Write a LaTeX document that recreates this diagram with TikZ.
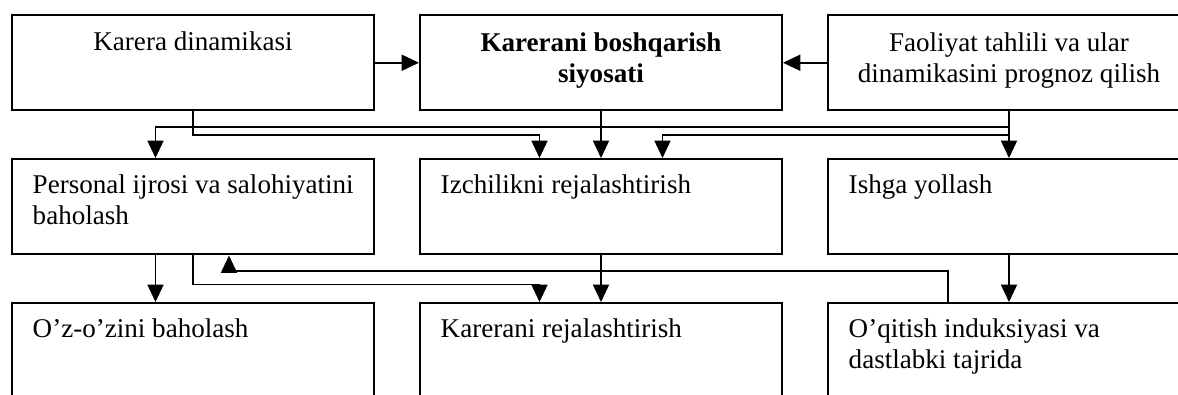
\documentclass[tikz,border=0pt]{standalone}
\usepackage{fontspec}
\setmainfont{Liberation Serif}
\usetikzlibrary{arrows.meta,calc}

\newcommand{\boxfont}{\fontsize{20.3}{23.25}\selectfont}
\tikzset{every picture/.style={line width=1.1pt}}
\tikzset{
  box/.style={draw, line width=1.5pt, anchor=north west, inner sep=0pt, minimum width=271.5pt, minimum height=71.6pt},
  txt/.style={inner sep=0pt, font=\boxfont},
  txtb/.style={inner sep=0pt, font=\boxfont\bfseries},
  arr/.style={line width=1.2pt, -{Triangle[length=13pt,width=12pt]}}
}

\begin{document}
\begin{tikzpicture}[x=0.75pt,y=0.75pt,yscale=-1,xscale=1]
\useasboundingbox (0,0) rectangle (1178,394);
\clip (0,0) rectangle (1178,394);

%Shapes: Rectangle
\node[box] (kd) at (11,14) {};
\node[box] (kbs) at (419,14) {};
\node[box] (ft) at (827,14) {};
\node[box] (pe) at (11,158) {};
\node[box] (iz) at (419,158) {};
\node[box] (ish) at (827,158) {};
\node[box] (oz) at (11,302) {};
\node[box] (kr) at (419,302) {};
\node[box] (oq) at (827,302) {};

% Text Node (base = last line)
\node[txt, anchor=base] (t-kd) at ($(kd.north)+(0,36)$) {Karera dinamikasi};
% Text Node
\node[txtb, anchor=base, align=center] (t-kbs) at ($(kbs.north)+(0,68)$) {Karerani boshqarish\\siyosati};
% Text Node
\node[txt, anchor=base, align=center] (t-ft) at ($(ft.north)+(0,68)$) {Faoliyat tahlili va ular\\dinamikasini prognoz qilish};
% Text Node
\node[txt, anchor=base west, align=left] (t-pe) at ($(pe.north west)+(21,66)$) {Personal ijrosi va salohiyatini\\baholash};
% Text Node
\node[txt, anchor=base west] (t-iz) at ($(iz.north west)+(21,35)$) {Izchilikni rejalashtirish};
% Text Node
\node[txt, anchor=base west] (t-ish) at ($(ish.north west)+(21,35)$) {Ishga yollash};
% Text Node
\node[txt, anchor=base west] (t-oz) at ($(oz.north west)+(21,35)$) {O’z-o’zini baholash};
% Text Node
\node[txt, anchor=base west] (t-kr) at ($(kr.north west)+(21,35)$) {Karerani rejalashtirish};
% Text Node
\node[txt, anchor=base west, align=left] (t-oq) at ($(oq.north west)+(21,66)$) {O’qitish induksiyasi va\\dastlabki tajrida};

%Straight Lines
\draw[arr] (kd.east) -- (kbs.west);
\draw[arr] (ft.west) -- (kbs.east);
\draw[arr] (kbs) -- (iz);
\draw[arr] (ft) -- (ish);
\draw[arr] (kd.south) -- ++(0,23.5) -| ($(iz.north)+(-61.5,0)$);
\draw[arr] (ft.south) -- ++(0,15.5) -| ($(pe.north)+(-37.5,0)$);
\draw[arr] (ft.south) -- ++(0,23.5) -| ($(iz.north)+(61.5,0)$);
%Straight Lines
\draw[arr] ($(pe.south)+(-37.5,0)$) -- ($(oz.north)+(-37.5,0)$);
\draw[arr] (pe.south) -- ++(0,29) -| ($(kr.north)+(-61.5,0)$);
\draw[arr] (iz) -- (kr);
\draw[arr] (ish) -- (oq);
\draw[arr] ($(oq.north)+(-61,0)$) -- ++(0,-31) -| ($(pe.south)+(36,0)$);
\end{tikzpicture}
\end{document}
